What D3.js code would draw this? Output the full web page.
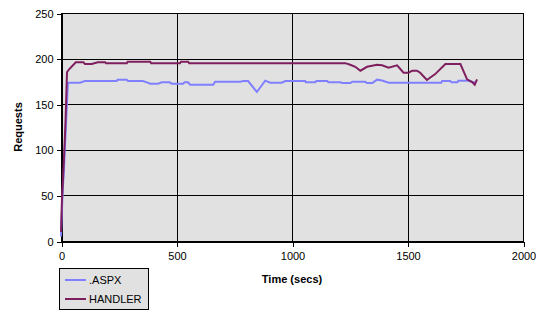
<!DOCTYPE html>
<html><head><meta charset="utf-8">
<script src="https://cdn.jsdelivr.net/npm/d3@7"></script>
<style>
body{margin:0;background:#fff;}
text{font-family:"Liberation Sans",Arial,sans-serif;}
</style></head>
<body><svg id="c" width="540" height="320"></svg>
<script>
const seriesNames = [".ASPX", "HANDLER"];
const seriesColors = ["#8080FF", "#7E1E5E"];
const xTicks = [0, 500, 1000, 1500, 2000];
const yTicks = [0, 50, 100, 150, 200, 250];

const aspxTime = [0,5,9,14,18,22,26,30,82,104,241,245,285,290,355,375,386,420,436,470,480,529,535,550,559,659,667,776,790,810,848,884,906,956,971,1057,1060,1101,1105,1153,1157,1209,1218,1252,1261,1317,1325,1348,1368,1390,1418,1646,1650,1685,1690,1716,1720,1763,1794];
const aspxValue = [5,40,62,85,108,130,152,173.6,173.6,175.4,175.4,176.9,176.9,175.4,175.4,173.6,172.5,172.5,174,174,172.5,172.5,174,174,171.4,171.4,174.7,174.7,175.4,175.4,163.4,175.8,173.6,173.6,175.4,175.4,174,174,175.4,175.4,174,174,173.2,173.2,174.5,174.5,173.2,173.2,176.9,176,173.6,173.6,175.4,175.4,174,174,175.8,175.8,173.6];

const handlerTime = [0,4,9,13,17,20,23,26,34,64,97,104,133,159,191,195,285,289,386,390,515,520,550,555,1231,1252,1274,1296,1325,1368,1390,1418,1455,1483,1505,1520,1541,1555,1584,1620,1664,1729,1758,1780,1791,1801];
const handlerValue = [10,45,69,92,115,135,160,185,188,196,196,194,194,196,196,195,195,196.6,196.6,195,195,196.6,196.6,195,195,193.3,191,186.7,191,193.3,192.6,190,192.6,184.5,184.5,186.7,186.7,184.5,176.5,183,194,194,177.3,174.3,171.4,177.3];

const svg = d3.select("#c");
const L = 61, R = 523, T = 13, B = 241;
const x = d3.scaleLinear().domain([0, 2000]).range([L, R]);
const y = d3.scaleLinear().domain([0, 250]).range([B, T]);

svg.append("rect").attr("x", L).attr("y", T).attr("width", R - L).attr("height", B - T)
  .attr("fill", "#E1E1E1");

const g = svg.append("g").attr("shape-rendering", "crispEdges");
g.selectAll(".hg").data(yTicks).enter().append("line")
  .attr("x1", L).attr("x2", R).attr("y1", d => Math.round(y(d)) + 0.5).attr("y2", d => Math.round(y(d)) + 0.5)
  .attr("stroke", "#000");
g.selectAll(".vg").data(xTicks).enter().append("line")
  .attr("y1", T).attr("y2", B + 1).attr("x1", d => Math.round(x(d)) + 0.5).attr("x2", d => Math.round(x(d)) + 0.5)
  .attr("stroke", "#000");

// axes
const fmt = d3.format("d");
const xAxis = d3.axisBottom(x).tickValues(xTicks).tickFormat(fmt).tickSize(5).tickPadding(6);
const yAxis = d3.axisLeft(y).tickValues(yTicks).tickFormat(fmt).tickSize(5).tickPadding(3);
const xa = svg.append("g").attr("transform", `translate(0.5,${B + 0.5})`).call(xAxis);
const ya = svg.append("g").attr("transform", `translate(${L + 0.5},0.5)`).call(yAxis);
[xa, ya].forEach(a => {
  a.select(".domain").attr("stroke", "#000").attr("shape-rendering", "crispEdges");
  a.selectAll(".tick line").attr("stroke", "#000").attr("shape-rendering", "crispEdges");
  a.selectAll("text").attr("font-size", "11px").attr("fill", "#000")
    .attr("font-family", '"Liberation Sans",Arial,sans-serif');
});

// lines
const data = [
  aspxTime.map((t, i) => [t, aspxValue[i]]),
  handlerTime.map((t, i) => [t, handlerValue[i]])
];
const line = d3.line().x(d => x(d[0])).y(d => y(d[1]));
data.forEach((d, i) => {
  svg.append("path").datum(d).attr("d", line).attr("fill", "none")
    .attr("stroke", seriesColors[i]).attr("stroke-width", 2).attr("stroke-linejoin", "miter");
});

// axis titles
svg.append("text").attr("x", 292).attr("y", 283).attr("text-anchor", "middle")
  .attr("font-size", "11px").attr("font-weight", "bold").text("Time (secs)");
svg.append("text").attr("transform", "translate(22,127) rotate(-90)").attr("text-anchor", "middle")
  .attr("font-size", "11px").attr("font-weight", "bold").text("Requests");

// legend
const lg = svg.append("g");
lg.append("rect").attr("x", 59.5).attr("y", 268.5).attr("width", 89).attr("height", 41)
  .attr("fill", "#E1E1E1").attr("stroke", "#000").attr("shape-rendering", "crispEdges");
seriesNames.forEach((n, i) => {
  const yy = 280 + i * 19;
  lg.append("line").attr("x1", 65).attr("x2", 86).attr("y1", yy).attr("y2", yy)
    .attr("stroke", seriesColors[i]).attr("stroke-width", 2);
  lg.append("text").attr("x", 89).attr("y", yy + 4).attr("font-size", "11px").text(n);
});
</script></body></html>
